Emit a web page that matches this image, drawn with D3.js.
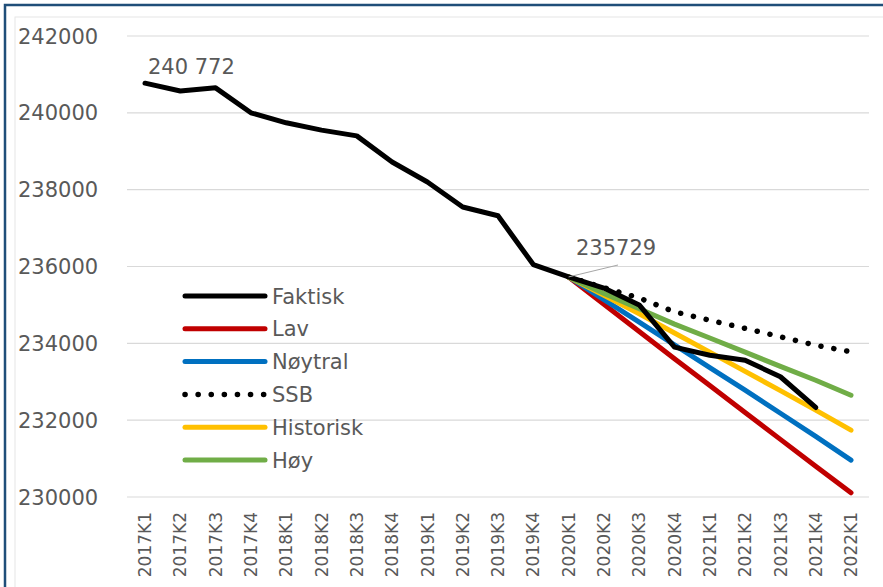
<!DOCTYPE html>
<html>
<head>
<meta charset="utf-8">
<script src="https://cdn.jsdelivr.net/npm/d3@7"></script>
<style>
  body { margin: 0; background: #fff; }
  text { font-family: "DejaVu Sans", Verdana, sans-serif; fill: #595959; }
</style>
</head>
<body>
<div id="chart"></div>
<script>
// quarters on the x axis
const quarters = ["2017K1","2017K2","2017K3","2017K4","2018K1","2018K2","2018K3","2018K4",
  "2019K1","2019K2","2019K3","2019K4","2020K1","2020K2","2020K3","2020K4",
  "2021K1","2021K2","2021K3","2021K4","2022K1"];

// actual figures (ends 2021K4)
const faktisk = [240772, 240570, 240650, 240000, 239740, 239550, 239400, 238720,
  238200, 237550, 237320, 236050, 235729, 235440, 235000, 233900,
  233690, 233560, 233130, 232330];

// projections start at 2020K1
const lav = [235729, 235020, 234310, 233600, 232900, 232200, 231500, 230800, 230110];
const noytral = [235729, 235140, 234550, 233960, 233370, 232780, 232180, 231580, 230960];
const ssb = [235729, 235450, 235180, 234820, 234600, 234390, 234170, 233950, 233780];
const historisk = [235729, 235250, 234770, 234270, 233770, 233270, 232770, 232260, 231740];
const hoy = [235729, 235300, 234900, 234500, 234140, 233770, 233400, 233040, 232650];

const yTicks = [230000, 232000, 234000, 236000, 238000, 240000, 242000];

const series = [
  {name: "Faktisk", start: 0, values: faktisk, color: "#000000", dash: null},
  {name: "Lav", start: 12, values: lav, color: "#c00000", dash: null},
  {name: "Nøytral", start: 12, values: noytral, color: "#0070c0", dash: null},
  {name: "SSB", start: 12, values: ssb, color: "#000000", dash: "0.1 13"},
  {name: "Historisk", start: 12, values: historisk, color: "#ffc000", dash: null},
  {name: "Høy", start: 12, values: hoy, color: "#70ad47", dash: null}
];
// draw order: projections under the actual line
const drawOrder = ["SSB", "Lav", "Nøytral", "Historisk", "Høy", "Faktisk"];

const W = 883, H = 587;
const svg = d3.select("#chart").append("svg").attr("width", W).attr("height", H);

// frame
svg.append("rect").attr("x", 5).attr("y", 5).attr("width", W).attr("height", H)
  .attr("fill", "none").attr("stroke", "#1f4e79").attr("stroke-width", 2.5);
svg.append("rect").attr("x", 15).attr("y", 17).attr("width", W).attr("height", H)
  .attr("fill", "none").attr("stroke", "#e6e6e6").attr("stroke-width", 1);

const x = d3.scalePoint().domain(quarters).range([145, 851]);
const y = d3.scaleLinear().domain([230000, 242000]).range([497, 36]);

// gridlines
svg.append("g").selectAll("line").data(yTicks).join("line")
  .attr("x1", 127).attr("x2", 869)
  .attr("y1", d => y(d)).attr("y2", d => y(d))
  .attr("stroke", "#d9d9d9").attr("stroke-width", 1.2);

// y labels
svg.append("g").selectAll("text").data(yTicks).join("text")
  .attr("x", 18).attr("y", d => y(d)).attr("dy", "0.36em")
  .attr("font-size", 21).text(d => d);

// x labels
svg.append("g").selectAll("text").data(quarters).join("text")
  .attr("transform", d => `translate(${x(d)},512) rotate(-90)`)
  .attr("text-anchor", "end").attr("dy", "0.36em")
  .attr("font-size", 17).text(d => d);

const line = d3.line().x(d => x(d.q)).y(d => y(d.v));

drawOrder.forEach(n => {
  const s = series.find(e => e.name === n);
  const pts = s.values.map((v, i) => ({q: quarters[s.start + i], v: v}));
  svg.append("path").datum(pts)
    .attr("d", line)
    .attr("fill", "none")
    .attr("stroke", s.color)
    .attr("stroke-width", s.dash ? 5.5 : 5)
    .attr("stroke-linecap", "round")
    .attr("stroke-linejoin", "round")
    .attr("stroke-dasharray", s.dash);
});

// data labels
svg.append("text").attr("x", 148).attr("y", 74).attr("font-size", 21)
  .attr("fill", "#404040").text("240 772");
svg.append("line")
  .attr("x1", x("2020K1")).attr("y1", y(235729))
  .attr("x2", 618).attr("y2", 265)
  .attr("stroke", "#a6a6a6").attr("stroke-width", 1);
svg.append("text").attr("x", 576).attr("y", 255).attr("font-size", 21)
  .attr("fill", "#404040").text("235729");

// legend
const leg = svg.append("g");
series.forEach((s, i) => {
  const ly = 296 + i * 32.8;
  leg.append("line").attr("x1", 185).attr("x2", 265).attr("y1", ly).attr("y2", ly)
    .attr("stroke", s.color).attr("stroke-width", s.dash ? 5.5 : 5)
    .attr("stroke-linecap", "round").attr("stroke-dasharray", s.dash);
  leg.append("text").attr("x", 272).attr("y", ly).attr("dy", "0.36em")
    .attr("font-size", 21).text(s.name);
});
</script>
</body>
</html>
